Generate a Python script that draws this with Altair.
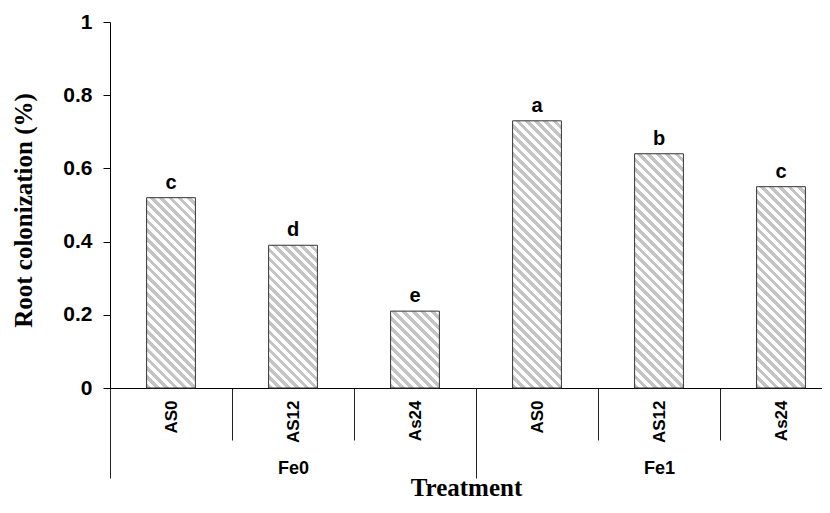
import math
import altair as alt
import pandas as pd

# ---- data ----
groups = ["Fe0", "Fe0", "Fe0", "Fe1", "Fe1", "Fe1"]
treatments = ["AS0", "AS12", "As24", "AS0", "AS12", "As24"]
values = [0.52, 0.39, 0.21, 0.73, 0.64, 0.55]
letters = ["c", "d", "e", "a", "b", "c"]
group_names = ["Fe0", "Fe1"]
y_ticks = [0, 0.2, 0.4, 0.6, 0.8, 1.0]

keys = [g + "|" + t for g, t in zip(groups, treatments)]
df = pd.DataFrame({"key": keys, "group": groups, "treat": treatments,
                   "value": values, "letter": letters})
gdf = pd.DataFrame({"group": group_names})

# ---- layout / style ----
PLOT_W, PLOT_H = 712, 366
RANGE_W = 732          # six bands of 122 px; the last part runs off the page
BAND_FRAC = 0.4
SANS = "Liberation Sans"
SERIF = "Liberation Serif"
GRAY = "#c4c4c4"
PERIOD = 6.6           # stripe period (px, perpendicular)
GRAY_FRAC = 0.5

xscale = alt.Scale(domain=keys, range=[0, RANGE_W], paddingInner=0, paddingOuter=0)
yscale = alt.Scale(domain=[0, 1], nice=False)


def hatch(value):
    w = BAND_FRAC * RANGE_W / len(keys)
    h = max(value * PLOT_H, 1.0)
    r = h / w
    k = (1 + r) / (1 + r * r)
    n = max(1, int(round((w + h) / math.sqrt(2) / PERIOD)))
    stops = []
    for i in range(n):
        a = i / n
        b = (i + GRAY_FRAC) / n
        c = (i + 1) / n
        stops += [{"offset": a, "color": GRAY}, {"offset": b, "color": GRAY},
                  {"offset": min(b + 1e-4, 1), "color": "white"},
                  {"offset": max(c - 1e-4, 0), "color": "white"}]
    return {"gradient": "linear", "x1": 0, "y1": 1, "x2": k, "y2": 1 - k * r,
            "stops": stops}


def sub_axis():
    return alt.Axis(
        orient="bottom", title=None, labelExpr="split(datum.label, '|')[1]",
        labelAngle=270, labelFont=SANS, labelFontWeight="bold", labelFontSize=17,
        labelColor="black", labelPadding=-40, tickBand="extent", tickSize=52,
        tickColor="#222222", domainColor="black", labelOverlap=False)


def y_axis():
    return alt.Axis(
        values=y_ticks, format=".1~f", grid=False, tickSize=7, tickColor="black",
        domainColor="black", labelFont=SANS, labelFontWeight="bold",
        labelFontSize=21, labelColor="black", labelPadding=11,
        title="Root colonization (%)", titleFont=SERIF, titleFontWeight="bold",
        titleFontSize=25, titleColor="black", titleX=-87, titleY=188,
        titleBaseline="middle", titleAngle=270)


layers = []
for i, kk in enumerate(keys):
    layers.append(
        alt.Chart(df).transform_filter(alt.datum.key == kk)
        .mark_bar(fill=hatch(values[i]), stroke="#333333", strokeWidth=1,
                  width=alt.RelativeBandSize(BAND_FRAC))
        .encode(
            x=alt.X("key:N", scale=xscale, sort=keys, axis=sub_axis()),
            y=alt.Y("value:Q", scale=yscale, axis=y_axis()),
        )
    )

text = alt.Chart(df).mark_text(
    font=SANS, fontWeight="bold", fontSize=20, color="black",
    baseline="alphabetic", dy=-9
).encode(
    x=alt.X("key:N", scale=xscale, sort=keys, axis=sub_axis()),
    y=alt.Y("value:Q", scale=yscale, axis=y_axis()),
    text="letter:N",
)

inner = alt.layer(*layers, text)

fe = alt.Chart(gdf).mark_point(opacity=0).encode(
    x=alt.X("group:N", sort=group_names,
            scale=alt.Scale(domain=group_names, range=[0, RANGE_W],
                            paddingInner=0, paddingOuter=0),
            axis=alt.Axis(orient="bottom", domain=False, tickBand="extent",
                          tickSize=90, tickColor="#222222", labelAngle=0,
                          labelFont=SANS, labelFontWeight="bold",
                          labelFontSize=18, labelColor="black",
                          labelPadding=-19,
                          title="Treatment", titleFont=SERIF,
                          titleFontWeight="bold", titleFontSize=25,
                          titleColor="black", titleX=356, titleY=107,
                          titleBaseline="alphabetic")),
    y=alt.value(0),
)

chart = alt.layer(inner, fe).resolve_scale(x="independent").resolve_axis(
    x="independent"
).properties(
    width=PLOT_W, height=PLOT_H,
    autosize=alt.AutoSizeParams(type="none"),
    padding={"left": 102, "top": 14, "right": 0, "bottom": 116},
    background="white",
).configure_view(stroke=None)

chart.save("out.html", embed_options={"renderer": "svg", "actions": False})
